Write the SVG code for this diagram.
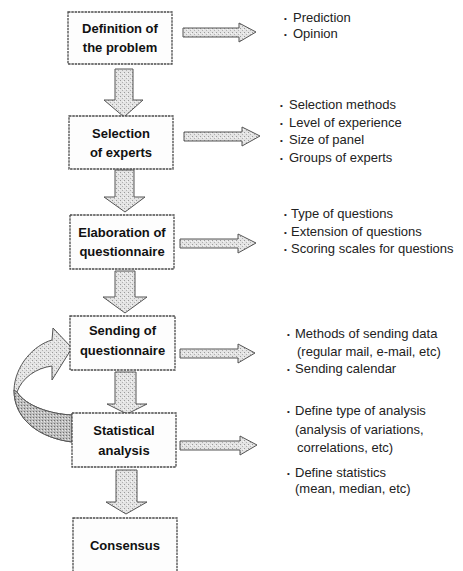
<svg xmlns="http://www.w3.org/2000/svg" width="463" height="571" viewBox="0 0 463 571">
<defs>
<pattern id="stip" width="4" height="4" patternUnits="userSpaceOnUse">
<rect width="4" height="4" fill="#e4e4e4"/>
<rect x="0" y="0" width="1" height="1" fill="#9a9a9a"/>
<rect x="2" y="2" width="1" height="1" fill="#b0b0b0"/>
<rect x="3" y="1" width="1" height="1" fill="#f6f6f6"/>
</pattern>
<pattern id="stipd" width="3" height="3" patternUnits="userSpaceOnUse">
<rect width="3" height="3" fill="#bdbdbd"/>
<rect x="0" y="0" width="1" height="1" fill="#6e6e6e"/>
<rect x="2" y="1" width="1" height="1" fill="#e8e8e8"/>
</pattern>
</defs>
<style>
.box{fill:#fdfdfd;stroke:#4a4a4a;stroke-width:1.3;stroke-dasharray:2.5 0.8}
.arr{fill:url(#stip);stroke:#555;stroke-width:1}
.t{font-family:"Liberation Sans",Arial,sans-serif;font-size:13px;font-weight:bold;fill:#111;text-anchor:middle}
.b{font-family:"Liberation Sans",Arial,sans-serif;font-size:13px;fill:#222}
.d{font-family:"Liberation Sans",Arial,sans-serif;font-size:8px;fill:#222}
</style>
<rect width="463" height="571" fill="#ffffff"/>

<g id="connectors">
<polygon class="arr" points="115,69 133,69 133,100 143,100 124,117 104,100 115,100"/>
<polygon class="arr" points="115,170 134,170 134,197 145,197 125,212 104,197 115,197"/>
<polygon class="arr" points="115,271 135,271 135,297 147,297 125,313 103,297 115,297"/>
<polygon class="arr" points="115,372 136,372 136,404 147,404 127,414 107,404 115,404"/>
<polygon class="arr" points="116,470 137,470 137,502 147,502 126,514 106,502 116,502"/>

<polygon class="arr" points="183,28 239,28 239,23 256,32 239,42 239,37 183,37"/>
<polygon class="arr" points="184,132 242,132 242,127 260,136 242,146 242,141 184,141"/>
<polygon class="arr" points="180,239 238,239 238,234 256,243 238,253 238,248 180,248"/>
<polygon class="arr" points="180,349 238,349 238,344 255,353 238,363 238,358 180,358"/>
<polygon class="arr" points="180,441 240,441 240,436 257,445 240,455 240,450 180,450"/>

<g id="loop">
<path class="arr" d="M72,442 C40,438 14,420 14,390 C15,365 34,345 52,340 L53,328 L72,348 L52,380 L52,366 C36,368 22,378 17,392 C26,406 50,414 72,415 Z"/>
<path d="M72,442 C40,438 14,420 14,390 L17,392 C26,406 50,414 72,415 Z" fill="url(#stipd)" stroke="#555" stroke-width="1"/>
</g>
</g>

<g id="n1"><rect class="box" x="68" y="12" width="104" height="52"/>
<text class="t" x="120" y="33">Definition of</text><text class="t" x="120" y="52">the problem</text></g>
<g id="n2"><rect class="box" x="69" y="116" width="104" height="53"/>
<text class="t" x="121" y="138">Selection</text><text class="t" x="121" y="157">of experts</text></g>
<g id="n3"><rect class="box" x="70" y="215" width="104" height="54"/>
<text class="t" x="122" y="237">Elaboration of</text><text class="t" x="122" y="256">questionnaire</text></g>
<g id="n4"><rect class="box" x="70" y="316" width="105" height="54"/>
<text class="t" x="122.5" y="335">Sending of</text><text class="t" x="122.5" y="355">questionnaire</text></g>
<g id="n5"><rect class="box" x="72" y="413" width="104" height="54"/>
<text class="t" x="124" y="435">Statistical</text><text class="t" x="124" y="455">analysis</text></g>
<g id="n6"><rect class="box" x="73" y="518" width="104" height="60"/>
<text class="t" x="125" y="550">Consensus</text></g>

<g id="notes1">
<text class="d" x="284" y="21">•</text><text class="b" x="293" y="22">Prediction</text>
<text class="d" x="284" y="37">•</text><text class="b" x="293" y="38">Opinion</text>
</g>
<g id="notes2">
<text class="d" x="280" y="108">•</text><text class="b" x="289" y="109">Selection methods</text>
<text class="d" x="280" y="126">•</text><text class="b" x="289" y="127">Level of experience</text>
<text class="d" x="280" y="143">•</text><text class="b" x="289" y="144">Size of panel</text>
<text class="d" x="280" y="161">•</text><text class="b" x="289" y="162">Groups of experts</text>
</g>
<g id="notes3">
<text class="d" x="284" y="217">•</text><text class="b" x="291" y="218">Type of questions</text>
<text class="d" x="284" y="235">•</text><text class="b" x="291" y="236">Extension of questions</text>
<text class="d" x="284" y="252">•</text><text class="b" x="291" y="253">Scoring scales for questions</text>
</g>
<g id="notes4">
<text class="d" x="287" y="337">•</text><text class="b" x="295" y="338">Methods of sending data</text>
<text class="b" x="297" y="356">(regular mail, e-mail, etc)</text>
<text class="d" x="287" y="372">•</text><text class="b" x="295" y="373">Sending calendar</text>
</g>
<g id="notes5">
<text class="d" x="287" y="414">•</text><text class="b" x="295" y="415">Define type of analysis</text>
<text class="b" x="295" y="434">(analysis of variations,</text>
<text class="b" x="297" y="452">correlations, etc)</text>
<text class="d" x="287" y="476">•</text><text class="b" x="295" y="477">Define statistics</text>
<text class="b" x="295" y="493">(mean, median, etc)</text>
</g>
</svg>
